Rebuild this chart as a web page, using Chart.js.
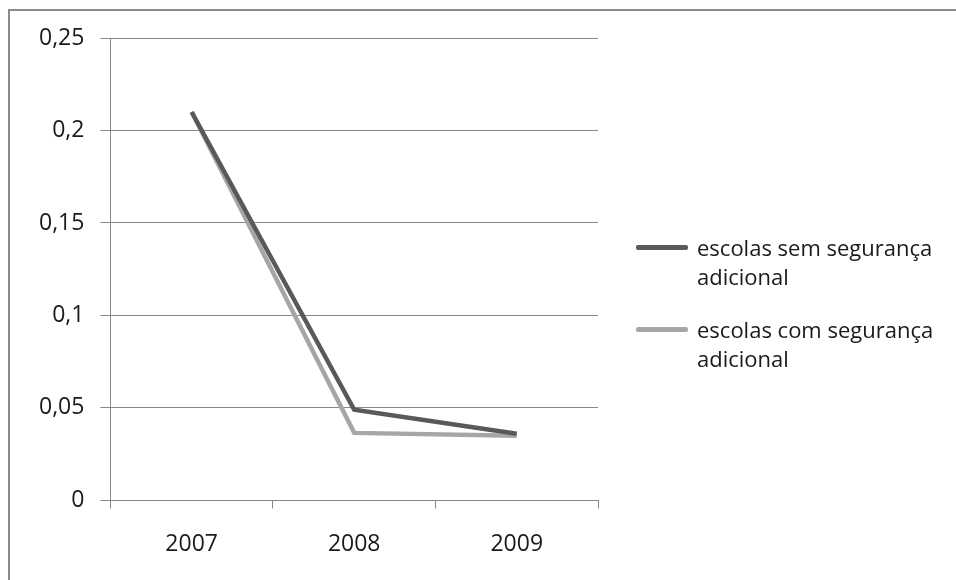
<!DOCTYPE html>
<html>
<head>
<meta charset="utf-8">
<script src="https://cdn.jsdelivr.net/npm/chart.js@4/dist/chart.umd.min.js"></script>
<style>
  html, body { margin: 0; padding: 0; background: #fff; }
  #wrap { position: relative; width: 956px; height: 580px; overflow: hidden; }
  #frame { position: absolute; left: 8px; top: 9px; width: 960px; height: 600px;
           border-left: 2px solid #8a8a8a; border-top: 2px solid #8a8a8a; }
  #chart { position: absolute; left: 0; top: 0; }
  #legend { position: absolute; left: 636px; top: 233px; width: 320px;
            font-family: "Open Sans", "Noto Sans", sans-serif; font-size: 22px; color: #1a1a1a; }
  .legend-item { display: flex; align-items: flex-start; margin-bottom: 24px; line-height: 29px; }
  .legend-line { flex: 0 0 52px; height: 5px; margin-top: 12px; margin-right: 9px; border-radius: 2px; }
</style>
</head>
<body>
<div id="wrap">
  <div id="frame"></div>
  <canvas id="chart" width="956" height="580"></canvas>
  <div id="legend"></div>
</div>
<script>
const categories = ["2007", "2008", "2009"];
const semSeguranca = [0.21, 0.049, 0.036];
const comSeguranca = [0.21, 0.0365, 0.035];
const seriesLabels = ["escolas sem segurança adicional", "escolas com segurança adicional"];

const COLORS = {
  sem: "#595959",
  com: "#a6a6a6",
  grid: "#888888",
};

function formatTick(v) {
  return Number(v.toFixed(2)).toString().replace(".", ",");
}

function renderLegend(el, items) {
  el.innerHTML = items
    .map(
      (i) =>
        `<div class="legend-item"><span class="legend-line" style="background:${i.color}"></span><span>${i.label}</span></div>`
    )
    .join("");
}

renderLegend(document.getElementById("legend"), [
  { color: COLORS.sem, label: seriesLabels[0] },
  { color: COLORS.com, label: seriesLabels[1] },
]);

const font = { family: '"Open Sans", "Noto Sans", sans-serif', size: 23 };

new Chart(document.getElementById("chart"), {
  type: "line",
  data: {
    labels: categories,
    datasets: [
      {
        label: seriesLabels[0],
        data: semSeguranca,
        borderColor: COLORS.sem,
        borderWidth: 4.5,
        pointRadius: 0,
        tension: 0,
      },
      {
        label: seriesLabels[1],
        data: comSeguranca,
        borderColor: COLORS.com,
        borderWidth: 4.5,
        pointRadius: 0,
        tension: 0,
      },
    ],
  },
  options: {
    responsive: false,
    animation: false,
    layout: { padding: { left: 23, top: 38, right: 358, bottom: 0 } },
    plugins: { legend: { display: false }, tooltip: { enabled: false } },
    scales: {
      x: {
        offset: true,
        grid: {
          offset: true,
          drawOnChartArea: false,
          drawTicks: true,
          tickLength: 8,
          color: COLORS.grid,
        },
        border: { color: COLORS.grid, width: 1 },
        ticks: { color: "#1a1a1a", font, padding: 22 },
      },
      y: {
        min: 0,
        max: 0.25,
        grid: { color: COLORS.grid, tickLength: 10 },
        border: { color: COLORS.grid, width: 1 },
        ticks: {
          stepSize: 0.05,
          color: "#1a1a1a",
          font,
          padding: 16,
          callback: (v) => formatTick(v),
        },
      },
    },
  },
});
</script>
</body>
</html>
